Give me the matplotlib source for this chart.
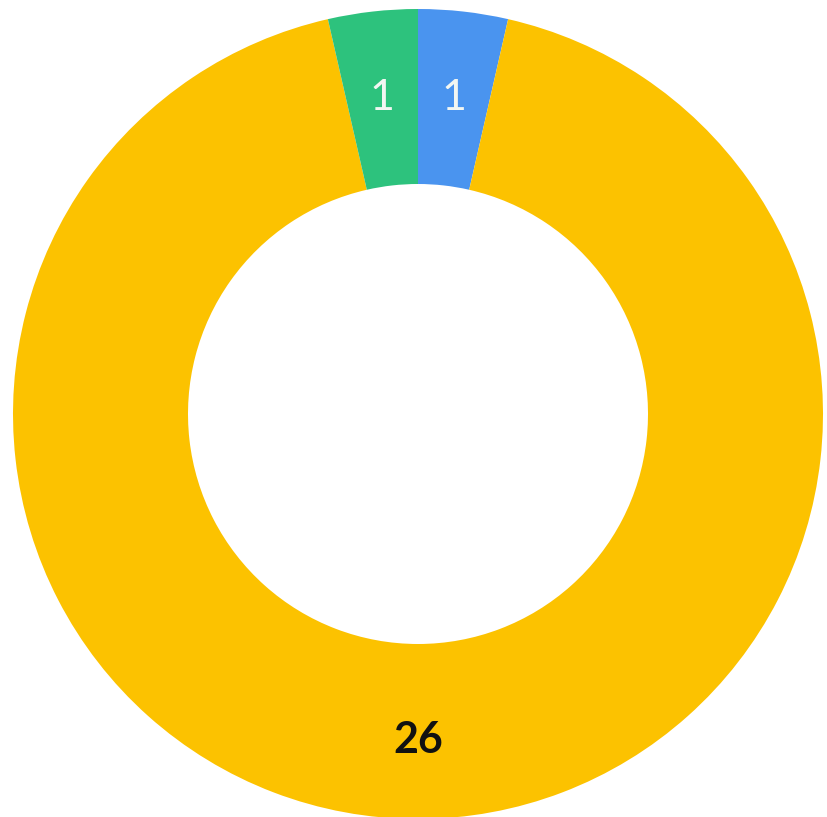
import matplotlib
matplotlib.use("Agg")
import matplotlib.pyplot as plt

categories = ["Blue", "Yellow", "Green"]
values = [1, 26, 1]
colors = ["#4A94EF", "#FCC200", "#2DC27D"]
label_colors = ["#F2F6F2", "#111111", "#F2F6F2"]
label_weights = ["normal", "bold", "normal"]

W, H = 827, 817
fig = plt.figure(figsize=(W / 100, H / 100), dpi=100)
cx, cy, R = 418, 414, 405
ax = fig.add_axes([(cx - R) / W, (H - cy - R) / H, 2 * R / W, 2 * R / H])

total = sum(values)
wedges, texts, autotexts = ax.pie(
    values,
    colors=colors,
    startangle=90,
    counterclock=False,
    radius=1.0,
    wedgeprops=dict(width=(405 - 230) / 405, linewidth=0, antialiased=True),
    autopct=lambda p: f"{round(p * total / 100)}",
    pctdistance=0.785,
    textprops=dict(fontsize=31, family=["Lato", "DejaVu Sans"]),
)
for t, c, w in zip(autotexts, label_colors, label_weights):
    t.set_color(c)
    t.set_fontweight(w)
autotexts[1].set_y(autotexts[1].get_position()[1] - 0.02)
ax.set_xlim(-1, 1)
ax.set_ylim(-1, 1)
ax.axis("off")
fig.savefig("out.png", dpi=100)
